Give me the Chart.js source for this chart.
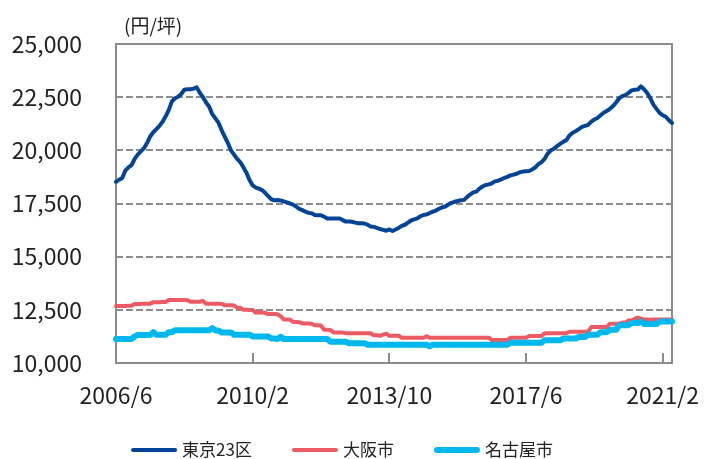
<!DOCTYPE html>
<html lang="ja">
<head>
<meta charset="utf-8">
<title>賃料推移</title>
<script src="https://cdn.jsdelivr.net/npm/chart.js@4.4.1/dist/chart.umd.min.js"></script>
<style>
  html, body { margin: 0; padding: 0; background: #fff; }
  #wrap { width: 705px; height: 459px; position: relative; }
</style>
</head>
<body>
<div id="wrap"><canvas id="rentChart"></canvas></div>
<script>
// ============================================
// DATA (monthly, 2006/6 - 2021/5, 円/坪)
// ============================================

const seriesNames = ['東京23区', '大阪市', '名古屋市'];

const tokyo = [
    18520, 18620, 18700, 19050, 19200, 19300, 19600, 19800, 19950, 20100,
    20350, 20650, 20850, 21000, 21150, 21350, 21600, 21900, 22300, 22450,
    22520, 22650, 22850, 22870, 22870, 22900, 22960, 22700, 22500, 22250,
    22050, 21700, 21500, 21300, 20950, 20650, 20350, 20000, 19800, 19600,
    19450, 19200, 18950, 18600, 18350, 18250, 18200, 18130, 18000, 17850,
    17700, 17650, 17660, 17640, 17600, 17550, 17500, 17450, 17350, 17250,
    17190, 17120, 17060, 17040, 16960, 16950, 16950, 16880, 16800, 16800,
    16800, 16800, 16800, 16720, 16650, 16650, 16640, 16600, 16570, 16570,
    16560, 16500, 16420, 16400, 16350, 16300, 16260, 16220, 16280, 16210,
    16280, 16350, 16450, 16500, 16600, 16700, 16750, 16800, 16900, 16960,
    16990, 17050, 17120, 17170, 17250, 17320, 17360, 17450, 17530, 17580,
    17620, 17650, 17670, 17800, 17920, 18020, 18060, 18200, 18300, 18370,
    18400, 18450, 18540, 18570, 18630, 18700, 18750, 18820, 18860, 18900,
    18970, 19000, 19020, 19030, 19100, 19200, 19350, 19450, 19600, 19850,
    20000, 20080, 20200, 20300, 20400, 20480, 20700, 20830, 20900, 21000,
    21100, 21150, 21200, 21350, 21450, 21520, 21650, 21770, 21850, 21950,
    22080, 22250, 22450, 22550, 22600, 22700, 22820, 22850, 22860, 23010,
    22870, 22700, 22450, 22150, 21950, 21760, 21650, 21580, 21420, 21290
];

const osaka = [
    12680, 12680, 12680, 12680, 12690, 12690, 12780, 12780, 12780, 12790,
    12790, 12790, 12860, 12860, 12860, 12870, 12870, 12960, 12960, 12960,
    12960, 12960, 12960, 12950, 12880, 12880, 12880, 12880, 12920, 12790,
    12790, 12790, 12790, 12790, 12780, 12720, 12720, 12720, 12700, 12600,
    12600, 12500, 12500, 12490, 12490, 12370, 12370, 12370, 12360, 12300,
    12300, 12300, 12290, 12200, 12050, 12050, 12040, 11930, 11930, 11920,
    11860, 11860, 11860, 11850, 11770, 11770, 11760, 11560, 11560, 11550,
    11440, 11440, 11440, 11430, 11400, 11400, 11400, 11400, 11400, 11400,
    11400, 11400, 11400, 11300, 11300, 11280, 11330, 11380, 11280, 11280,
    11280, 11280, 11190, 11190, 11190, 11190, 11190, 11190, 11190, 11190,
    11260, 11190, 11190, 11190, 11190, 11190, 11190, 11190, 11190, 11190,
    11190, 11190, 11190, 11190, 11190, 11190, 11190, 11190, 11190, 11190,
    11190, 11080, 11080, 11080, 11080, 11080, 11080, 11190, 11190, 11190,
    11190, 11190, 11190, 11270, 11270, 11270, 11270, 11270, 11400, 11400,
    11400, 11400, 11400, 11400, 11400, 11400, 11470, 11470, 11470, 11470,
    11470, 11470, 11470, 11690, 11690, 11690, 11690, 11690, 11690, 11850,
    11850, 11850, 11850, 11900, 11900, 12000, 12000, 12080, 12130, 12080,
    12050, 12050, 12030, 12050, 12050, 12050, 12050, 12050, 12050, 12050
];

const nagoya = [
    11130, 11130, 11130, 11130, 11130, 11130, 11250, 11320, 11320, 11320,
    11320, 11320, 11450, 11330, 11330, 11330, 11330, 11450, 11450, 11540,
    11540, 11540, 11540, 11540, 11540, 11540, 11540, 11540, 11540, 11540,
    11540, 11640, 11530, 11530, 11430, 11430, 11430, 11430, 11330, 11330,
    11330, 11330, 11330, 11330, 11250, 11250, 11250, 11250, 11250, 11250,
    11150, 11150, 11130, 11230, 11130, 11130, 11130, 11130, 11130, 11130,
    11130, 11130, 11130, 11130, 11130, 11130, 11130, 11130, 11130, 11000,
    11000, 11000, 11000, 11000, 11000, 10930, 10930, 10930, 10930, 10930,
    10930, 10860, 10860, 10860, 10860, 10860, 10860, 10860, 10860, 10860,
    10860, 10860, 10860, 10860, 10860, 10860, 10860, 10860, 10860, 10860,
    10860, 10780, 10860, 10860, 10860, 10860, 10860, 10860, 10860, 10860,
    10860, 10860, 10860, 10860, 10860, 10860, 10860, 10860, 10860, 10860,
    10860, 10860, 10860, 10860, 10860, 10860, 10860, 10950, 10950, 10950,
    10950, 10950, 10950, 10950, 10950, 10950, 10950, 10950, 11070, 11070,
    11070, 11070, 11070, 11070, 11150, 11150, 11150, 11150, 11150, 11220,
    11220, 11220, 11330, 11330, 11330, 11330, 11450, 11450, 11450, 11560,
    11560, 11560, 11780, 11780, 11780, 11780, 11880, 11880, 11880, 11960,
    11830, 11830, 11830, 11830, 11830, 11950, 11950, 11950, 11950, 11950
];

// category labels: one per month from 2006/6
const startYear = 2006;
const startMonth = 6;
const months = tokyo.map((_, i) => {
    const m = startMonth - 1 + i;
    return `${startYear + Math.floor(m / 12)}/${(m % 12) + 1}`;
});
const tickEvery = 44;   // 2006/6, 2010/2, 2013/10, 2017/6, 2021/2

const yMin = 10000;
const yMax = 25000;
const yStep = 2500;
const unitLabel = '(円/坪)';

// ============================================
// STYLE
// ============================================

const FONT = '"Noto Sans CJK JP", "Noto Sans", sans-serif';
const TEXT = '#222222';
const FRAME = '#8c8c8c';

/**
 * Plot frame + inward tick marks on the x axis
 */
const framePlugin = {
    id: 'plotFrame',
    beforeDatasetsDraw(chart) {
        const { ctx, chartArea: a, scales: { x } } = chart;
        ctx.save();
        ctx.strokeStyle = FRAME;
        ctx.lineWidth = 2;
        ctx.strokeRect(a.left, a.top, a.right - a.left, a.bottom - a.top);
        ctx.beginPath();
        for (let i = tickEvery; i < months.length; i += tickEvery) {
            const px = Math.round(x.getPixelForValue(i));
            ctx.moveTo(px, a.bottom);
            ctx.lineTo(px, a.bottom - 10);
        }
        ctx.stroke();
        ctx.restore();
    }
};

/**
 * Unit label above the y axis
 */
const unitPlugin = {
    id: 'unitLabel',
    afterDraw(chart) {
        const { ctx, chartArea: a } = chart;
        ctx.save();
        ctx.font = `19px ${FONT}`;
        ctx.fillStyle = TEXT;
        ctx.textBaseline = 'middle';
        ctx.textAlign = 'left';
        ctx.fillText(unitLabel, a.left + 8, 26);
        ctx.restore();
    }
};

/**
 * Legend row under the x axis (line sample + name)
 */
const legendPlugin = {
    id: 'bottomLegend',
    afterDraw(chart) {
        const { ctx } = chart;
        const lineLen = 46, textGap = 5, itemGap = 40, centerX = 342, y = 450;
        ctx.save();
        ctx.font = `17px ${FONT}`;
        const items = chart.data.datasets.map(ds => ({
            ds,
            w: lineLen + textGap + ctx.measureText(ds.label).width
        }));
        const total = items.reduce((s, it) => s + it.w, 0) + itemGap * (items.length - 1);
        let x = centerX - total / 2;
        items.forEach(({ ds, w }) => {
            ctx.strokeStyle = ds.borderColor;
            ctx.lineWidth = ds.borderWidth;
            ctx.lineCap = 'round';
            ctx.beginPath();
            ctx.moveTo(x + ds.borderWidth / 2, y);
            ctx.lineTo(x + lineLen - ds.borderWidth / 2, y);
            ctx.stroke();
            ctx.fillStyle = TEXT;
            ctx.textBaseline = 'middle';
            ctx.textAlign = 'left';
            ctx.fillText(ds.label, x + lineLen + textGap, y);
            x += w + itemGap;
        });
        ctx.restore();
    }
};

// ============================================
// CHART
// ============================================

function lineDataset(label, data, color, width, order) {
    return {
        label,
        data,
        borderColor: color,
        backgroundColor: color,
        borderWidth: width,
        borderCapStyle: 'round',
        borderJoinStyle: 'round',
        pointRadius: 0,
        pointHoverRadius: 0,
        tension: 0,
        order
    };
}

const ctx = document.getElementById('rentChart');

new Chart(ctx, {
    type: 'line',
    data: {
        labels: months,
        datasets: [
            lineDataset(seriesNames[0], tokyo, '#00449a', 4, 2),
            lineDataset(seriesNames[1], osaka, '#ec5a64', 4, 1),
            lineDataset(seriesNames[2], nagoya, '#00b8ee', 6, 0)
        ]
    },
    options: {
        responsive: true,
        maintainAspectRatio: false,
        animation: false,
        layout: {
            padding: { top: 44, right: 33, bottom: 0, left: 0 }
        },
        plugins: {
            legend: { display: false },
            tooltip: { enabled: false }
        },
        scales: {
            x: {
                type: 'category',
                offset: false,
                grid: { display: false, drawTicks: false },
                border: { display: false },
                ticks: {
                    autoSkip: false,
                    maxRotation: 0,
                    padding: 18,
                    color: TEXT,
                    font: { family: FONT, size: 23 },
                    callback: (val, idx) => (idx % tickEvery === 0 ? months[idx] : null)
                },
                afterFit: scale => {
                    // fixed plot box: ignore label overhang
                    scale.height = 96;
                    scale.paddingLeft = 0;
                    scale.paddingRight = 0;
                }
            },
            y: {
                min: yMin,
                max: yMax,
                grid: {
                    color: FRAME,
                    lineWidth: 2,
                    drawTicks: false
                },
                border: { display: false, dash: [7, 3] },
                ticks: {
                    stepSize: yStep,
                    padding: 34,
                    color: TEXT,
                    font: { family: FONT, size: 23 },
                    callback: v => v.toLocaleString('en-US')
                },
                afterFit: scale => {
                    scale.width = 116;
                    scale.paddingTop = 0;
                    scale.paddingBottom = 0;
                }
            }
        }
    },
    plugins: [framePlugin, unitPlugin, legendPlugin]
});
</script>
</body>
</html>
